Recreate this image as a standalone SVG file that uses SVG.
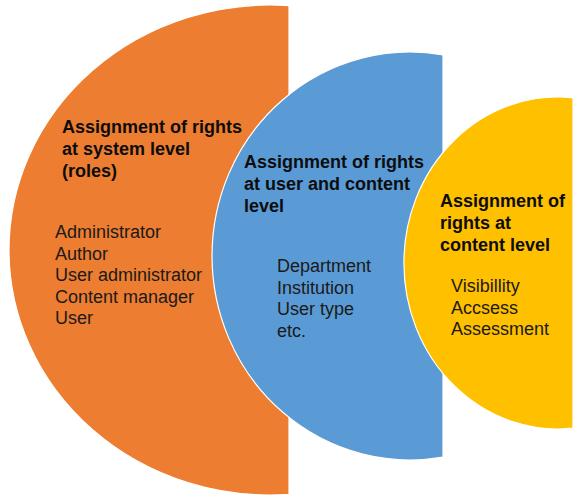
<svg xmlns="http://www.w3.org/2000/svg" width="579" height="501" viewBox="0 0 579 501">
<style>
.shape{stroke:#ffffff;stroke-width:1.2}
.title{font-family:"Liberation Sans",Arial,sans-serif;font-weight:bold;font-size:18px;fill:#0d0d0d}
.body{font-family:"Liberation Sans",Arial,sans-serif;font-size:18px;fill:#1a1a1a}
</style>
<rect width="579" height="501" fill="#ffffff"/>
<g id="system-level">
<path class="shape" fill="#ED7D31" d="M289,5.65 A261,245 0 1,0 289,494.35 Z"/>
<text class="title" x="62" y="133">Assignment of rights</text>
<text class="title" x="62" y="155">at system level</text>
<text class="title" x="62" y="177">(roles)</text>
<text class="body" x="55" y="238">Administrator</text>
<text class="body" x="55" y="259.5">Author</text>
<text class="body" x="55" y="281">User administrator</text>
<text class="body" x="55" y="302.5">Content manager</text>
<text class="body" x="55" y="324">User</text>
</g>
<g id="user-content-level">
<path class="shape" fill="#5B9BD5" d="M443,54.85 A198,204 0 1,0 443,457.15 Z"/>
<text class="title" x="244" y="168">Assignment of rights</text>
<text class="title" x="244" y="190">at user and content</text>
<text class="title" x="244" y="212">level</text>
<text class="body" x="277" y="272">Department</text>
<text class="body" x="277" y="293.5">Institution</text>
<text class="body" x="277" y="315">User type</text>
<text class="body" x="277" y="336.5">etc.</text>
</g>
<g id="content-level">
<path class="shape" fill="#FFC000" d="M573,97.8 A154,166 0 1,0 573,428.2 Z"/>
<text class="title" x="440" y="207">Assignment of</text>
<text class="title" x="440" y="229">rights at</text>
<text class="title" x="440" y="251">content level</text>
<text class="body" x="451" y="292">Visibillity</text>
<text class="body" x="451" y="313.5">Accsess</text>
<text class="body" x="451" y="335">Assessment</text>
</g>
</svg>
